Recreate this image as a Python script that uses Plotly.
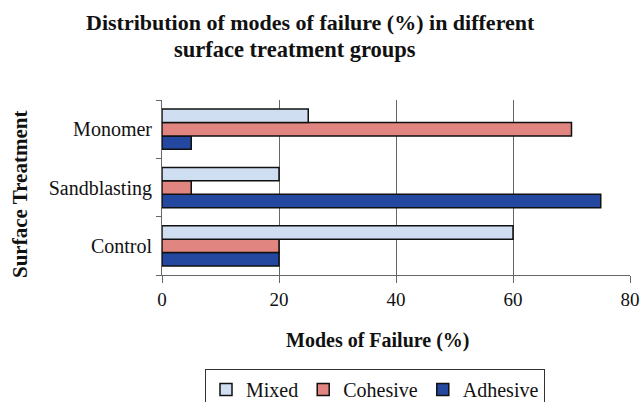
import plotly.graph_objects as go

categories = ["Control", "Sandblasting", "Monomer"]
mixed = [60, 20, 25]
cohesive = [20, 5, 70]
adhesive = [20, 75, 5]
x_ticks = [0, 20, 40, 60, 80]

FONT = "Liberation Serif, Times New Roman, serif"

W, H = 642, 402
L, R, T, B = 162, 630, 100, 275   # plot area in px


def px(x):
    return (x - L) / (R - L)


def py(y):
    return (B - y) / (B - T)


fig = go.Figure()
for name, vals, col in [("Adhesive", adhesive, "#2447A0"),
                        ("Cohesive", cohesive, "#E0857F"),
                        ("Mixed", mixed, "#D0DEF1")]:
    fig.add_trace(go.Bar(y=categories, x=vals, name=name, orientation="h",
                         marker=dict(color=col, line=dict(color="#111", width=1.5))))

fig.update_layout(
    width=W, height=H,
    margin=dict(l=L, r=W - R, t=T, b=H - B, pad=0),
    paper_bgcolor="white", plot_bgcolor="white",
    barmode="group", bargap=0.31, bargroupgap=0,
    font=dict(family=FONT, size=19, color="#111"),
    showlegend=True,
    legend=dict(orientation="h", traceorder="reversed",
                xref="container", yref="container",
                x=375 / W, xanchor="center", y=1 - 369 / H, yanchor="top",
                bordercolor="#333", borderwidth=1,
                font=dict(size=20, family=FONT), itemwidth=30,
                tracegroupgap=0),
    xaxis=dict(range=[0, 80], tickvals=x_ticks, showgrid=True, gridcolor="#666",
               gridwidth=1, showline=True, linecolor="#666", linewidth=1,
               ticks="outside", ticklen=7, tickcolor="#666", zeroline=False,
               automargin=False, ticklabeloverflow="allow",
               tickfont=dict(size=19, family=FONT)),
    yaxis=dict(showline=True, linecolor="#666", linewidth=1, ticks="outside",
               ticklen=5, tickcolor="#666", tickson="boundaries", automargin=False,
               tickfont=dict(size=20, family=FONT), ticksuffix=" "),
)

fig.add_annotation(text="<b>Distribution of modes of failure (%) in different</b>",
                   xref="paper", yref="paper", x=px(310), y=py(22),
                   showarrow=False, font=dict(size=22, family=FONT),
                   xanchor="center", yanchor="middle")
fig.add_annotation(text="<b>surface treatment groups</b>",
                   xref="paper", yref="paper", x=px(295), y=py(50),
                   showarrow=False, font=dict(size=22.5, family=FONT),
                   xanchor="center", yanchor="middle")
fig.add_annotation(text="<b>Modes of Failure (%)</b>",
                   xref="paper", yref="paper", x=px(378), y=py(340),
                   showarrow=False, font=dict(size=20, family=FONT),
                   xanchor="center", yanchor="middle")
fig.add_annotation(text="<b>Surface Treatment</b>", textangle=-90,
                   xref="paper", yref="paper", x=px(20), y=py(195),
                   showarrow=False, font=dict(size=21, family=FONT),
                   xanchor="center", yanchor="middle")

fig.write_html("out.html",
               config={"displayModeBar": False},
               post_script="document.body.style.margin='0';"
                           "document.documentElement.style.overflow='hidden';")
